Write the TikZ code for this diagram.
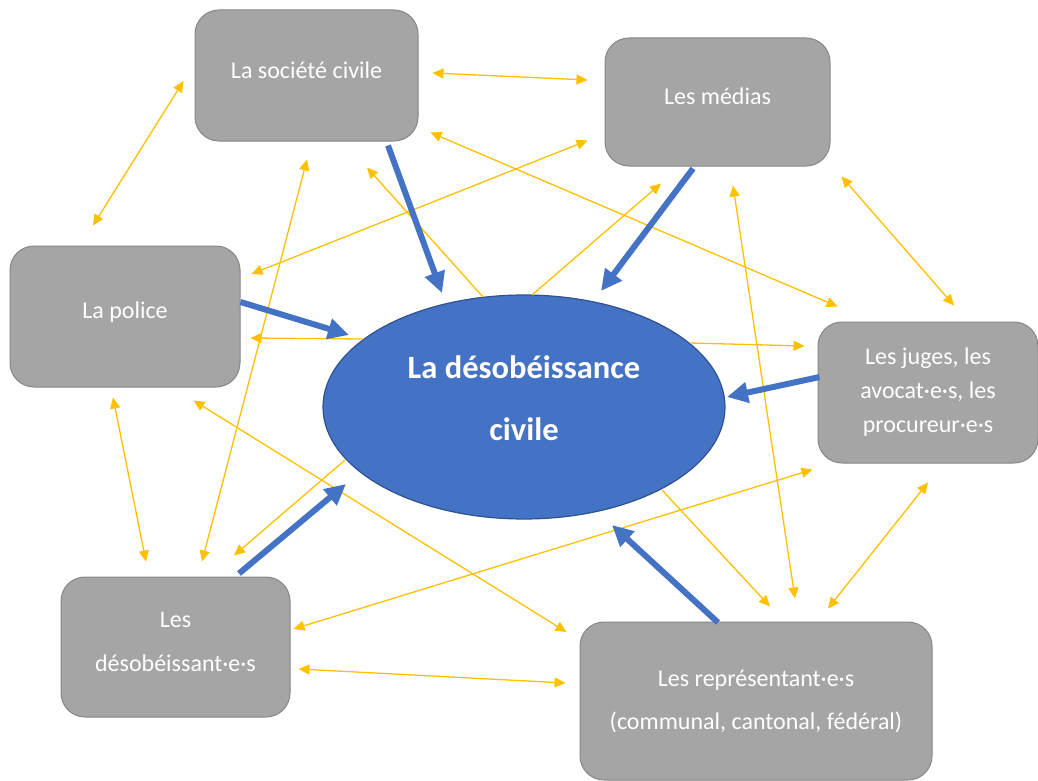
\documentclass[tikz,border=0pt]{standalone}
\usepackage{fontspec}
\setmainfont{Carlito}
\usepackage{tikz}
\usetikzlibrary{arrows.meta,shapes.geometric}
\definecolor{actorgray}{HTML}{A5A5A5}
\definecolor{actorline}{HTML}{878787}
\definecolor{coreblue}{HTML}{4472C4}
\definecolor{coreline}{HTML}{2F528F}
\definecolor{linkorange}{HTML}{FFC000}
\tikzset{
  actor/.style={draw=actorline, line width=1pt, fill=actorgray, rounded corners=24pt,
    text=white, align=center, inner sep=0pt, font=\fontsize{24}{34}\selectfont},
  core/.style={ellipse, draw=coreline, line width=1.2pt, fill=coreblue, text=white,
    align=center, inner sep=0pt, minimum width=402pt, minimum height=224pt,
    font=\bfseries\fontsize{32.5}{62}\selectfont},
  link/.style={<->, >={Triangle[length=11pt,width=10pt]}, draw=linkorange, line width=1.3pt},
  feed/.style={link, ->},
  push/.style={-{Triangle[length=21pt,width=20pt]}, draw=coreblue, line width=6pt},
}

\begin{document}
\begin{tikzpicture}[x=1pt, y=-1pt]
  \useasboundingbox (0,0) rectangle (1038,781);
  % nodes (text depth lifts the text a bit above the middle)
  \node[core, text depth=18pt] (core) at (524,407) {La désobéissance\\civile};
  \node[actor, minimum width=223pt, minimum height=131pt, text depth=10pt] (soc) at (306.5,75.5) {La société civile};
  \node[actor, minimum width=225pt, minimum height=128pt, text depth=12pt] (med) at (717.5,102) {Les médias};
  \node[actor, minimum width=230pt, minimum height=141pt, text depth=13pt] (pol) at (125,316.5) {La police};
  \node[actor, minimum width=220pt, minimum height=141pt] (jus) at (928,392.5) {Les juges, les\\avocat·e·s, les\\procureur·e·s};
  \node[actor, minimum width=229pt, minimum height=140pt, text depth=10pt] (des) at (175.5,647) {Les\\[10pt]désobéissant·e·s};
  \node[actor, minimum width=352pt, minimum height=158pt] (rep) at (756,701) {Les représentant·e·s\\[9pt](communal, cantonal, fédéral)};

  % links between the actors
  \draw[link] ([shift={(14,-2.5)}]soc.east) -- ([shift={(-17,-22)}]med.west);
  \draw[link] ([shift={(12,-9)}]soc.south east) -- ([shift={(20,-15)}]jus.north west);
  \draw[link] ([shift={(11,-42.5)}]pol.east) -- ([shift={(-17,-26)}]med.south west);
  \draw[link] ([shift={(0.5,18)}]soc.south) -- ([shift={(26.5,-15)}]des.north);
  \draw[link] ([shift={(-12,10)}]pol.south) -- ([shift={(-29.5,-15)}]des.north);
  \draw[link] ([shift={(-11,5.5)}]soc.west) -- ([shift={(-32,-20)}]pol.north);
  \draw[link] ([shift={(11,10)}]med.south east) -- ([shift={(26,-16)}]jus.north);
  \draw[link] ([shift={(15.5,19)}]med.south) -- ([shift={(39,-23)}]rep.north);
  \draw[link] ([shift={(3,-18)}]des.east) -- ([shift={(-5,6)}]jus.south west);
  \draw[link] ([shift={(-47,13)}]pol.south east) -- ([shift={(-13,-69)}]rep.west);
  \draw[link] ([shift={(8,22)}]des.east) -- ([shift={(-14,-18)}]rep.west);
  \draw[link] ([shift={(0,19)}]jus.south) -- ([shift={(72,-13)}]rep.north);

  % links from the civil disobedience out to the actors
  \draw[feed] ([shift={(-41,-110)}]core.center) -- ([shift={(60.5,26)}]soc.south);
  \draw[feed] ([shift={(8,-112)}]core.center) -- ([shift={(-56.5,17)}]med.south);
  \draw[feed] ([shift={(166,-64)}]core.center) -- ([shift={(-13,-46.5)}]jus.west);
  \draw[feed] ([shift={(-161,-68)}]core.center) -- ([shift={(10,21.5)}]pol.east);
  \draw[feed] ([shift={(-179,53)}]core.center) -- ([shift={(58.5,-21)}]des.north);
  \draw[feed] ([shift={(138,83)}]core.center) -- ([shift={(14,-15)}]rep.north);

  % every actor pushes on the civil disobedience
  \draw[push] ([shift={(81.5,4)}]soc.south) -- ([shift={(-82,-114)}]core.center);
  \draw[push] ([shift={(-24.5,2)}]med.south) -- ([shift={(77,-116)}]core.center);
  \draw[push] ([shift={(0,-14.5)}]pol.east) -- ([shift={(-175,-72)}]core.center);
  \draw[push] ([shift={(2,-15.5)}]jus.west) -- ([shift={(203,-10)}]core.center);
  \draw[push] ([shift={(63.5,-3)}]des.north) -- ([shift={(-178,77)}]core.center);
  \draw[push] ([shift={(-38,1)}]rep.north) -- ([shift={(88,118)}]core.center);
\end{tikzpicture}
\end{document}
